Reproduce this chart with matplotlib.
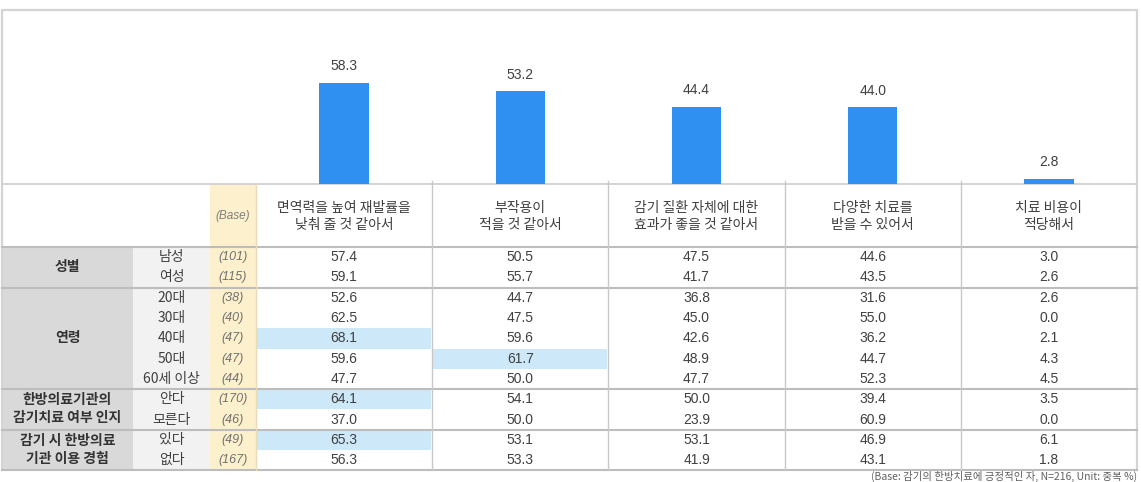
import matplotlib
matplotlib.use("Agg")
import matplotlib.pyplot as plt
from matplotlib.patches import Rectangle

plt.rcParams['font.family'] = ['Noto Sans CJK KR', 'DejaVu Sans']

# ---- data ----
reasons = [
    "면역력을 높여 재발률을\n낮춰 줄 것 같아서",
    "부작용이\n적을 것 같아서",
    "감기 질환 자체에 대한\n효과가 좋을 것 같아서",
    "다양한 치료를\n받을 수 있어서",
    "치료 비용이\n적당해서",
]
total = [58.3, 53.2, 44.4, 44.0, 2.8]

group_names = ["성별", "연령", "한방의료기관의\n감기치료 여부 인지", "감기 시 한방의료\n기관 이용 경험"]
group_sizes = [2, 5, 2, 2]
sub_labels = ["남성", "여성", "20대", "30대", "40대", "50대", "60세 이상", "안다", "모른다", "있다", "없다"]
bases = [101, 115, 38, 40, 47, 47, 44, 170, 46, 49, 167]

col1 = [57.4, 59.1, 52.6, 62.5, 68.1, 59.6, 47.7, 64.1, 37.0, 65.3, 56.3]
col2 = [50.5, 55.7, 44.7, 47.5, 59.6, 61.7, 50.0, 54.1, 50.0, 53.1, 53.3]
col3 = [47.5, 41.7, 36.8, 45.0, 42.6, 48.9, 47.7, 50.0, 23.9, 53.1, 41.9]
col4 = [44.6, 43.5, 31.6, 55.0, 36.2, 44.7, 52.3, 39.4, 60.9, 46.9, 43.1]
col5 = [3.0, 2.6, 2.6, 0.0, 2.1, 4.3, 4.5, 3.5, 0.0, 6.1, 1.8]
columns = [col1, col2, col3, col4, col5]

# (row, column) cells shaded as notably high
highlights = [(4, 0), (7, 0), (9, 0), (5, 1)]

footnote = "(Base: 감기의 한방치료에 긍정적인 자, N=216, Unit: 중복 %)"

# ---- layout (pixels) ----
W, H = 1141, 482
X_LEFT, X_SUB, X_BASE, X_DATA, X_RIGHT = 2, 133, 210, 256, 1137
Y_TOP, Y_HEAD, Y_BODY = 10, 184, 247
ROW_H = 20.3
COL_W = (X_RIGHT - X_DATA) / len(reasons)

TXT = "#404040"
LINE = "#c8c8c8"
BAR = "#3090F2"

fig = plt.figure(figsize=(W / 100, H / 100), dpi=100)

# table canvas in pixel units
ax = fig.add_axes([0, 0, 1, 1])
ax.set_xlim(0, W)
ax.set_ylim(H, 0)
ax.axis("off")

n_rows = len(sub_labels)
y_end = Y_BODY + n_rows * ROW_H

# column backgrounds
ax.add_patch(Rectangle((X_LEFT, Y_BODY), X_SUB - X_LEFT, y_end - Y_BODY, color="#d9d9d9", lw=0))
ax.add_patch(Rectangle((X_SUB, Y_BODY), X_BASE - X_SUB, y_end - Y_BODY, color="#f2f2f2", lw=0))
ax.add_patch(Rectangle((X_BASE, Y_HEAD), X_DATA - X_BASE, y_end - Y_HEAD, color="#fdf0cc", lw=0))

for r, c in highlights:
    ax.add_patch(Rectangle((X_DATA + c * COL_W + 1, Y_BODY + r * ROW_H), COL_W - 2, ROW_H,
                           color="#cde8f8", lw=0))

# outer frame
ax.plot([X_LEFT, X_LEFT, X_RIGHT, X_RIGHT], [y_end, Y_TOP, Y_TOP, y_end], color="#d4d4d4", lw=1.6)

# horizontal rules
ax.plot([X_LEFT, X_RIGHT], [Y_HEAD, Y_HEAD], color="#d0d0d0", lw=1.3)
ax.plot([X_LEFT, X_RIGHT], [Y_BODY, Y_BODY], color="#bdbdbd", lw=1.5)
y = Y_BODY
for size in group_sizes:
    y += size * ROW_H
    ax.plot([X_LEFT, X_RIGHT], [y, y], color="#bdbdbd", lw=1.5)

# vertical rules
for i in range(1, len(reasons)):
    x = X_DATA + i * COL_W
    ax.plot([x, x], [Y_HEAD - 3, y_end], color=LINE, lw=1)
ax.plot([X_DATA, X_DATA], [Y_HEAD, y_end], color="#e8dcb8", lw=1)

# header
ax.text((X_BASE + X_DATA) / 2, (Y_HEAD + Y_BODY) / 2, "(Base)", ha="center", va="center",
        fontsize=8.5, color="#7f7f7f", style="italic", family="Liberation Sans")
for i, name in enumerate(reasons):
    ax.text(X_DATA + (i + 0.5) * COL_W, (Y_HEAD + Y_BODY) / 2 + 1, name, ha="center", va="center",
            fontsize=10, color=TXT, linespacing=1.2)

# group labels
y = Y_BODY
for name, size in zip(group_names, group_sizes):
    ax.text((X_LEFT + X_SUB) / 2, y + size * ROW_H / 2, name, ha="center", va="center",
            fontsize=10, fontweight="bold", color="#333333", linespacing=1.35)
    y += size * ROW_H

# rows
for r in range(n_rows):
    yc = Y_BODY + (r + 0.5) * ROW_H
    ax.text((X_SUB + X_BASE) / 2, yc, sub_labels[r], ha="center", va="center", fontsize=10, color=TXT)
    ax.text((X_BASE + X_DATA) / 2, yc, f"({bases[r]})", ha="center", va="center",
            fontsize=9, color="#707070", style="italic", family="Liberation Sans")
    for c, col in enumerate(columns):
        ax.text(X_DATA + (c + 0.5) * COL_W, yc, f"{col[r]:.1f}", ha="center", va="center",
                fontsize=10, color=TXT, family="Liberation Sans")

ax.text(X_RIGHT, H - 0.5, footnote, ha="right", va="bottom", fontsize=7.5, color="#606060")

# bar chart above the table
bx = fig.add_axes([X_DATA / W, (H - Y_HEAD) / H, (X_RIGHT - X_DATA) / W, (Y_HEAD - Y_TOP) / H])
bx.patch.set_alpha(0)
positions = range(len(total))
bx.bar(positions, total, width=0.28, color=BAR)
for p, v in zip(positions, total):
    bx.annotate(f"{v:.1f}", (p, v), xytext=(0, 7), textcoords="offset points",
                ha="center", va="bottom", fontsize=10, color=TXT, family="Liberation Sans")
bx.set_xlim(-0.5, len(total) - 0.5)
bx.set_ylim(0, 100)
bx.axis("off")

fig.savefig("out.png", dpi=100)
